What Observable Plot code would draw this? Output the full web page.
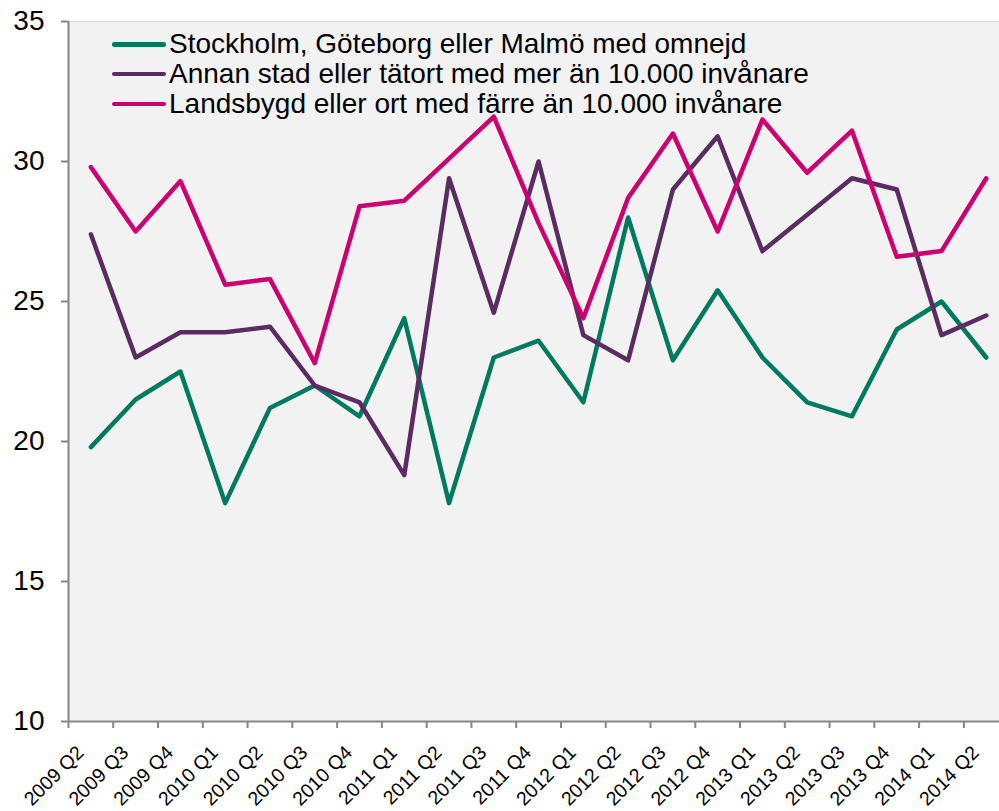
<!DOCTYPE html>
<html>
<head>
<meta charset="utf-8">
<script src="https://cdn.jsdelivr.net/npm/d3@7"></script>
<script src="https://cdn.jsdelivr.net/npm/@observablehq/plot@0.6"></script>
<style>
  body { margin: 0; background: #fff; font-family: "Liberation Sans", Arial, sans-serif; }
  #wrap { position: relative; width: 999px; height: 811px; overflow: hidden; }
  #legend { position: absolute; left: 112px; top: 29.4px; }
  .row { display: flex; align-items: center; height: 29.85px; line-height: 29.85px; font-size: 28px; color: #000; white-space: nowrap; }
  .sw { width: 54px; height: 4.4px; border-radius: 2.2px; margin-right: 3px; flex: none; }
</style>
</head>
<body>
<div id="wrap">
  <div id="chart"></div>
  <div id="legend"></div>
</div>
<script>
const quarters = [
  "2009 Q2","2009 Q3","2009 Q4","2010 Q1","2010 Q2","2010 Q3","2010 Q4",
  "2011 Q1","2011 Q2","2011 Q3","2011 Q4","2012 Q1","2012 Q2","2012 Q3",
  "2012 Q4","2013 Q1","2013 Q2","2013 Q3","2013 Q4","2014 Q1","2014 Q2"
];
const seriesNames = [
  "Stockholm, Göteborg eller Malmö med omnejd",
  "Annan stad eller tätort med mer än 10.000 invånare",
  "Landsbygd eller ort med färre än 10.000 invånare"
];
const stockholm = [19.8, 21.5, 22.5, 17.8, 21.2, 22.0, 20.9, 24.4, 17.8, 23.0, 23.6, 21.4, 28.0, 22.9, 25.4, 23.0, 21.4, 20.9, 24.0, 25.0, 23.0];
const annan     = [27.4, 23.0, 23.9, 23.9, 24.1, 22.0, 21.4, 18.8, 29.4, 24.6, 30.0, 23.8, 22.9, 29.0, 30.9, 26.8, 28.1, 29.4, 29.0, 23.8, 24.5];
const landsbygd = [29.8, 27.5, 29.3, 25.6, 25.8, 22.8, 28.4, 28.6, 30.1, 31.6, 27.8, 24.4, 28.7, 31.0, 27.5, 31.5, 29.6, 31.1, 26.6, 26.8, 29.4];
const seriesColors = ["#007a5e", "#5b2c62", "#cc0070"];
const yTicks = [10, 15, 20, 25, 30, 35];

const seriesValues = [stockholm, annan, landsbygd];
const rows = [];
seriesValues.forEach((vals, s) => {
  vals.forEach((v, i) => rows.push({series: seriesNames[s], pos: i + 0.5, value: v}));
});
const boundaries = d3.range(quarters.length + 1);
const labelRows = quarters.map((q, i) => ({q, pos: i + 0.5}));
const axisColor = "#868686";

const chart = Plot.plot({
  width: 999,
  height: 811,
  marginTop: 21,
  marginBottom: 90,
  marginLeft: 68,
  marginRight: 0,
  style: {fontFamily: '"Liberation Sans", Arial, sans-serif', color: "#000", background: "#fff"},
  x: {type: "linear", domain: [0, quarters.length], range: [68, 68 + 44.77 * quarters.length]},
  y: {domain: [10, 35]},
  color: {domain: seriesNames, range: seriesColors},
  marks: [
    Plot.frame({fill: "#f2f2f2", stroke: "none"}),
    Plot.ruleY([35], {stroke: "#d9d9d9", strokeWidth: 1}),
    Plot.axisY({ticks: yTicks, tickSize: 7, tickPadding: 17, fontSize: 28, stroke: axisColor, strokeWidth: 2, fill: "#000", label: null}),
    Plot.axisX({ticks: boundaries, tickSize: 7, tickFormat: () => "", stroke: axisColor, strokeWidth: 2, label: null}),
    Plot.text(labelRows, {x: "pos", y: () => 10, text: "q", rotate: -45, textAnchor: "end", dx: -10.5, dy: 28, fontSize: 19.5, fill: "#000"}),
    Plot.ruleX([0], {stroke: axisColor, strokeWidth: 2}),
    Plot.ruleY([10], {stroke: axisColor, strokeWidth: 2}),
    Plot.line(rows, {x: "pos", y: "value", z: "series", stroke: "series", strokeWidth: 4.5, strokeLinejoin: "round", strokeLinecap: "round"})
  ]
});
document.getElementById("chart").appendChild(chart);

const legend = document.getElementById("legend");
seriesNames.forEach((name, i) => {
  const row = document.createElement("div");
  row.className = "row";
  const sw = document.createElement("span");
  sw.className = "sw";
  sw.style.background = seriesColors[i];
  const t = document.createElement("span");
  t.textContent = name;
  row.appendChild(sw);
  row.appendChild(t);
  legend.appendChild(row);
});
</script>
</body>
</html>
